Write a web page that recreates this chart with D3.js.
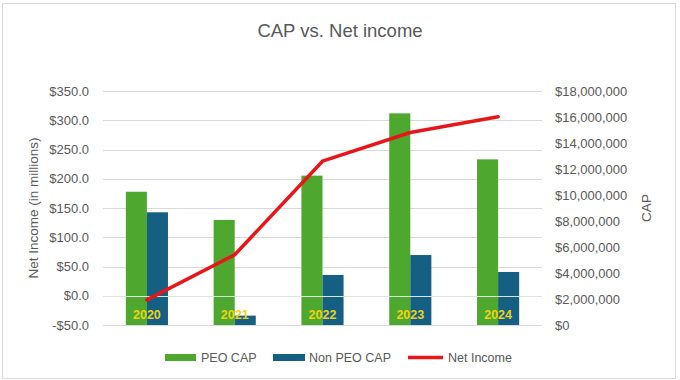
<!DOCTYPE html>
<html>
<head>
<meta charset="utf-8">
<script src="https://cdn.jsdelivr.net/npm/d3@7"></script>
<style>
  html, body { margin: 0; padding: 0; background: #fff; }
  svg { display: block; font-family: "Liberation Sans", Arial, sans-serif; }
</style>
</head>
<body>
<svg id="chart" width="680" height="380"></svg>
<script>
const years = ["2020", "2021", "2022", "2023", "2024"];
const peoCap = [10250000, 8080000, 11490000, 16280000, 12740000];
const nonPeoCap = [8670000, 720000, 3850000, 5380000, 4080000];
const netIncome = [-7, 70, 230, 279, 306];
const leftTicks = [-50, 0, 50, 100, 150, 200, 250, 300, 350];
const rightTicks = [0, 2000000, 4000000, 6000000, 8000000, 10000000, 12000000, 14000000, 16000000, 18000000];
const seriesNames = ["PEO CAP", "Non PEO CAP", "Net Income"];

const colors = { peo: "#4EA72E", nonPeo: "#156082", line: "#E8161B", text: "#595959", grid: "#D9D9D9", year: "#EBD316" };

const svg = d3.select("#chart");
const plot = { left: 103, right: 542, top: 91, bottom: 325 };

// outer border
svg.append("rect").attr("x", 2.5).attr("y", 3.5).attr("width", 673).attr("height", 375)
  .attr("fill", "#fff").attr("stroke", colors.grid).attr("stroke-width", 1);

// title
svg.append("text").attr("x", 340).attr("y", 37).attr("text-anchor", "middle")
  .attr("font-size", 18.5).attr("fill", colors.text).text("CAP vs. Net income");

const x0 = d3.scaleBand().domain(years).range([plot.left, plot.right]).paddingInner(0.52).paddingOuter(0.26);
const x1 = d3.scaleBand().domain(["peo", "nonPeo"]).range([0, x0.bandwidth()]);
const yL = d3.scaleLinear().domain([-50, 350]).range([plot.bottom, plot.top]);
const yR = d3.scaleLinear().domain([0, 18000000]).range([plot.bottom, plot.top]);

// gridlines
svg.append("g").selectAll("line").data(leftTicks).join("line")
  .attr("x1", plot.left).attr("x2", plot.right)
  .attr("y1", d => Math.round(yL(d)) + 0.5).attr("y2", d => Math.round(yL(d)) + 0.5)
  .attr("stroke", colors.grid).attr("stroke-width", 1);

// left axis
const leftAxis = d3.axisLeft(yL).tickValues(leftTicks).tickSize(0).tickPadding(0)
  .tickFormat(d => (d < 0 ? "-$" : "$") + Math.abs(d).toFixed(1));
const gL = svg.append("g").attr("transform", "translate(89,0)").call(leftAxis);
gL.select(".domain").remove();
gL.selectAll("text").attr("font-size", 13).attr("fill", colors.text).attr("font-family", "Liberation Sans, Arial, sans-serif");

// right axis
const rightAxis = d3.axisRight(yR).tickValues(rightTicks).tickSize(0).tickPadding(0)
  .tickFormat(d => "$" + d3.format(",")(d));
const gR = svg.append("g").attr("transform", "translate(555,0)").call(rightAxis);
gR.select(".domain").remove();
gR.selectAll("text").attr("font-size", 13).attr("fill", colors.text).attr("font-family", "Liberation Sans, Arial, sans-serif");

// axis titles
svg.append("text").attr("transform", "translate(38,208) rotate(-90)").attr("text-anchor", "middle")
  .attr("font-size", 13.5).attr("fill", colors.text).text("Net Income (in millions)");
svg.append("text").attr("transform", "translate(651,208) rotate(-90)").attr("text-anchor", "middle")
  .attr("font-size", 13.5).attr("fill", colors.text).text("CAP");

// bars
const groups = svg.append("g").selectAll("g").data(years).join("g")
  .attr("transform", d => `translate(${x0(d)},0)`);
groups.append("rect").attr("x", x1("peo")).attr("width", x1.bandwidth())
  .attr("y", (d, i) => yR(peoCap[i])).attr("height", (d, i) => yR(0) - yR(peoCap[i]))
  .attr("fill", colors.peo);
groups.append("rect").attr("x", x1("nonPeo")).attr("width", x1.bandwidth())
  .attr("y", (d, i) => yR(nonPeoCap[i])).attr("height", (d, i) => yR(0) - yR(nonPeoCap[i]))
  .attr("fill", colors.nonPeo);

// category axis line at zero (left scale)
svg.append("line").attr("x1", plot.left).attr("x2", plot.right)
  .attr("y1", Math.round(yL(0)) + 0.5).attr("y2", Math.round(yL(0)) + 0.5)
  .attr("stroke", "#DCE6D8").attr("stroke-width", 1);

// year labels
svg.append("g").selectAll("text").data(years).join("text")
  .attr("x", d => x0(d) + x0.bandwidth() / 2).attr("y", 319)
  .attr("text-anchor", "middle").attr("font-size", 12.5).attr("font-weight", "bold")
  .attr("fill", colors.year).text(d => d);

// net income line
const line = d3.line().x((d, i) => x0(years[i]) + x0.bandwidth() / 2).y(d => yL(d));
svg.append("path").datum(netIncome).attr("d", line).attr("fill", "none")
  .attr("stroke", colors.line).attr("stroke-width", 3.5).attr("stroke-linejoin", "round").attr("stroke-linecap", "round");

// legend
const legend = svg.append("g").attr("font-size", 12.5).attr("fill", colors.text);
const lx = [165, 273, 408];
legend.append("rect").attr("x", lx[0]).attr("y", 354).attr("width", 31).attr("height", 7).attr("fill", colors.peo);
legend.append("rect").attr("x", lx[1]).attr("y", 354).attr("width", 32).attr("height", 7).attr("fill", colors.nonPeo);
legend.append("line").attr("x1", lx[2]).attr("x2", lx[2] + 35).attr("y1", 357.5).attr("y2", 357.5)
  .attr("stroke", colors.line).attr("stroke-width", 3.5);
const tx = [201, 309, 448];
legend.selectAll("text").data(seriesNames).join("text")
  .attr("x", (d, i) => tx[i]).attr("y", 362).attr("fill", colors.text).text(d => d);
</script>
</body>
</html>
